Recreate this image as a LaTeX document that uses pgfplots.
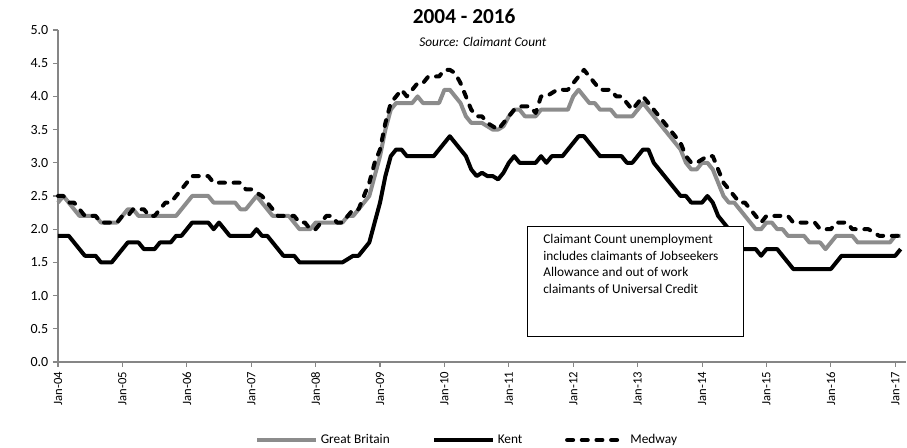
\documentclass[border=0pt]{standalone}
\usepackage{fontspec}
\setmainfont{Carlito}
\usepackage{pgfplots}
\usepackage{pgfplotstable}
\pgfplotsset{compat=1.18}
\definecolor{gbgray}{RGB}{140,140,140}
\definecolor{axgray}{RGB}{134,134,134}
\pgfplotstableread{
gb kent med
2.4 1.9 2.5
2.5 1.9 2.5
2.4 1.9 2.4
2.3 1.8 2.4
2.2 1.7 2.3
2.2 1.6 2.2
2.2 1.6 2.2
2.2 1.6 2.2
2.1 1.5 2.1
2.1 1.5 2.1
2.1 1.5 2.1
2.1 1.6 2.1
2.2 1.7 2.2
2.3 1.8 2.2
2.3 1.8 2.3
2.2 1.8 2.3
2.2 1.7 2.3
2.2 1.7 2.2
2.2 1.7 2.2
2.2 1.8 2.3
2.2 1.8 2.4
2.2 1.8 2.4
2.2 1.9 2.5
2.3 1.9 2.6
2.4 2.0 2.7
2.5 2.1 2.8
2.5 2.1 2.8
2.5 2.1 2.8
2.5 2.1 2.8
2.4 2.0 2.7
2.4 2.1 2.7
2.4 2.0 2.7
2.4 1.9 2.7
2.4 1.9 2.7
2.3 1.9 2.7
2.3 1.9 2.6
2.4 1.9 2.6
2.5 2.0 2.55
2.4 1.9 2.5
2.3 1.9 2.4
2.2 1.8 2.3
2.2 1.7 2.2
2.2 1.6 2.2
2.2 1.6 2.2
2.1 1.6 2.2
2.0 1.5 2.1
2.0 1.5 2.1
2.0 1.5 2.0
2.1 1.5 2.0
2.1 1.5 2.1
2.1 1.5 2.2
2.1 1.5 2.2
2.1 1.5 2.1
2.1 1.5 2.1
2.2 1.55 2.2
2.2 1.6 2.3
2.3 1.6 2.3
2.4 1.7 2.5
2.5 1.8 2.7
2.8 2.1 3.0
3.1 2.4 3.2
3.5 2.8 3.6
3.8 3.1 3.9
3.9 3.2 4.0
3.9 3.2 4.1
3.9 3.1 4.0
3.9 3.1 4.1
4.0 3.1 4.2
3.9 3.1 4.2
3.9 3.1 4.3
3.9 3.1 4.3
3.9 3.2 4.3
4.1 3.3 4.4
4.1 3.4 4.4
4.0 3.3 4.35
3.9 3.2 4.2
3.7 3.1 4.0
3.6 2.9 3.8
3.6 2.8 3.7
3.6 2.85 3.7
3.55 2.8 3.6
3.5 2.8 3.55
3.5 2.75 3.5
3.55 2.85 3.6
3.7 3.0 3.7
3.8 3.1 3.8
3.8 3.0 3.85
3.7 3.0 3.85
3.7 3.0 3.85
3.7 3.0 3.75
3.8 3.1 4.0
3.8 3.0 4.0
3.8 3.1 4.05
3.8 3.1 4.1
3.8 3.1 4.1
3.8 3.2 4.1
4.0 3.3 4.2
4.1 3.4 4.3
4.0 3.4 4.4
3.9 3.3 4.3
3.9 3.2 4.2
3.8 3.1 4.1
3.8 3.1 4.1
3.8 3.1 4.1
3.7 3.1 4.0
3.7 3.1 4.0
3.7 3.0 3.9
3.7 3.0 3.8
3.8 3.1 3.9
3.9 3.2 4.0
3.8 3.2 3.9
3.7 3.0 3.8
3.6 2.9 3.7
3.5 2.8 3.6
3.4 2.7 3.5
3.3 2.6 3.4
3.2 2.5 3.3
3.0 2.5 3.1
2.9 2.4 3.0
2.9 2.4 3.0
3.0 2.4 3.05
3.0 2.5 3.1
2.9 2.4 3.1
2.7 2.2 2.9
2.5 2.1 2.7
2.4 2.0 2.6
2.4 1.8 2.5
2.3 1.7 2.4
2.2 1.7 2.4
2.1 1.7 2.3
2.0 1.7 2.2
2.0 1.6 2.1
2.1 1.7 2.2
2.1 1.7 2.2
2.0 1.7 2.2
2.0 1.6 2.2
1.9 1.5 2.2
1.9 1.4 2.1
1.9 1.4 2.1
1.9 1.4 2.1
1.8 1.4 2.1
1.8 1.4 2.1
1.8 1.4 2.0
1.7 1.4 2.0
1.8 1.4 2.0
1.9 1.5 2.1
1.9 1.6 2.1
1.9 1.6 2.1
1.9 1.6 2.0
1.8 1.6 2.0
1.8 1.6 2.0
1.8 1.6 2.0
1.8 1.6 1.95
1.8 1.6 1.9
1.8 1.6 1.9
1.8 1.6 1.9
1.9 1.6 1.9
1.9 1.7 1.9
}\datatable

\begin{document}
\begin{tikzpicture}
\path[use as bounding box] (-43.5pt,-64.5pt) rectangle (636.75pt,271.5pt);
\begin{axis}[
  scale only axis, width=636pt, height=249pt,
  anchor=south west, at={(0pt,0pt)},
  xmin=0, xmax=158, ymin=0, ymax=5,
  clip=false,
  axis x line*=bottom, axis y line*=left,
  axis line style={draw=axgray, line width=0.8pt, -},
  xtick={0,12,24,36,48,60,72,84,96,108,120,132,144,156},
  xticklabels={Jan-04,Jan-05,Jan-06,Jan-07,Jan-08,Jan-09,Jan-10,Jan-11,Jan-12,Jan-13,Jan-14,Jan-15,Jan-16,Jan-17},
  x tick label style={rotate=90, anchor=east, font=\fontsize{9.5}{11}\selectfont},
  ytick={0,0.5,1,1.5,2,2.5,3,3.5,4,4.5,5},
  yticklabel style={/pgf/number format/fixed, /pgf/number format/fixed zerofill, /pgf/number format/precision=1, /pgf/number format/assume math mode=true, font=\fontsize{10.5}{12}\selectfont},
  tick align=outside, major tick length=3.75pt,
  tick style={draw=axgray, line width=0.8pt},
  legend columns=3,
  legend style={at={(axis description cs:0.483,-0.235)}, anchor=center, draw=none, fill=none,
    font=\fontsize{10}{12}\selectfont,
    /tikz/every even column/.append style={column sep=30pt}},
  legend image code/.code={\draw[#1] (0pt,0pt) -- (44pt,0pt);},
]
\addplot[gbgray, line width=3pt, line join=round] table[x expr=\coordindex, y=gb] {\datatable};
\addlegendentry{Great Britain}
\addplot[black, line width=3pt, line join=round] table[x expr=\coordindex, y=kent] {\datatable};
\addlegendentry{Kent}
\addplot[black, line width=3pt, line join=round, line cap=round, dash pattern=on 4.5pt off 6.5pt] table[x expr=\coordindex, y=med] {\datatable};
\addlegendentry{Medway}

\draw[black, line width=0.7pt, fill=white] (axis cs:87.4,0.39) rectangle (axis cs:127.8,2.048);
\node[anchor=north west, inner sep=0pt, align=left, font=\fontsize{10}{12.4}\selectfont]
  at ([xshift=12pt,yshift=-6pt]axis cs:87.4,2.048)
  {Claimant Count unemployment\\includes claimants of Jobseekers\\Allowance and out of work\\claimants of Universal Credit};

\node[font=\fontsize{16}{19}\selectfont\bfseries] at (axis description cs:0.479,1.042) {2004 - 2016};
\node[font=\fontsize{10}{12}\selectfont\itshape] at (axis description cs:0.501,0.964) {Source: Claimant Count};
\end{axis}
\end{tikzpicture}
\end{document}
